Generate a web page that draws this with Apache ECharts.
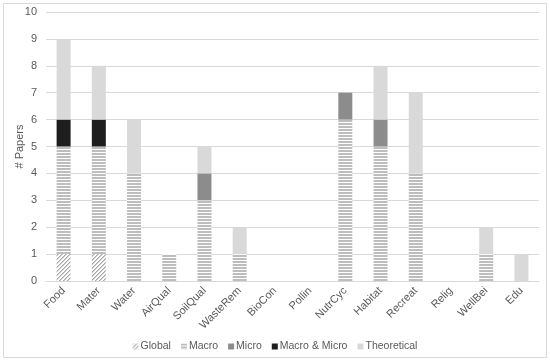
<!DOCTYPE html>
<html><head><meta charset="utf-8">
<script src="https://cdn.jsdelivr.net/npm/echarts@6/dist/echarts.min.js"></script>
<style>html,body{margin:0;padding:0;background:#fff}#c{width:550px;height:361px}</style>
</head><body><div id="c"></div>
<script>
const categories = ['Food','Mater','Water','AirQual','SoilQual','WasteRem','BioCon','Pollin','NutrCyc','Habitat','Recreat','Relig','WellBei','Edu'];
const globalVals      = [1,1,0,0,0,0,0,0,0,0,0,0,0,0];
const macroVals       = [4,4,4,1,3,1,0,0,6,5,4,0,1,0];
const microVals       = [0,0,0,0,1,0,0,0,1,1,0,0,0,0];
const macroMicroVals  = [1,1,0,0,0,0,0,0,0,0,0,0,0,0];
const theoreticalVals = [3,2,2,0,1,1,0,0,0,2,3,0,1,1];
const yTicks = [0,1,2,3,4,5,6,7,8,9,10];

function hPattern(){
  const c=document.createElement('canvas'); c.width=4; c.height=3;
  const g=c.getContext('2d'); g.fillStyle='#ffffff'; g.fillRect(0,0,4,3);
  g.fillStyle='#bdbdbd'; g.fillRect(0,0,4,2); return c;
}
function dPattern(){
  const c=document.createElement('canvas'); c.width=4; c.height=4;
  const g=c.getContext('2d'); g.fillStyle='#ffffff'; g.fillRect(0,0,4,4);
  g.fillStyle='#a6a6a6';
  for(let i=0;i<4;i++){ g.fillRect(i,3-i,1,1); }
  g.fillStyle='#cfcfcf';
  for(let i=0;i<4;i++){ g.fillRect((i+1)%4,3-i,1,1); }
  return c;
}
const chart = echarts.init(document.getElementById('c'),null,{renderer:'canvas'});
const nz = a => a.map(v => v===0? null : v);
function ser(name,data,color){
  return {name, type:'bar', stack:'s', data:nz(data), barWidth:14, itemStyle:{color}, emphasis:{disabled:true}};
}
chart.setOption({
  animation:false,
  grid:{left:46,right:11,top:12,bottom:80,containLabel:false,outerBoundsMode:'none'},
  graphic:[{type:'rect',shape:{x:3.5,y:3.5,width:543,height:354},style:{fill:'none',stroke:'#d9d9d9',lineWidth:1},z:-1}],
  legend:{bottom:4,left:'center',itemWidth:6,itemHeight:6,itemGap:10,icon:'rect',
    textStyle:{color:'#595959',fontSize:10.5,fontFamily:'Liberation Sans',padding:[0,0,0,-3]},
    data:['Global','Macro','Micro','Macro & Micro','Theoretical']},
  xAxis:{type:'category',data:categories,
    axisLine:{lineStyle:{color:'#d9d9d9'}},axisTick:{show:false},
    axisLabel:{rotate:45,interval:0,color:'#595959',fontSize:11,fontFamily:'Liberation Sans',margin:8}},
  yAxis:{type:'value',min:yTicks[0],max:yTicks[yTicks.length-1],interval:1,
    name:'# Papers',nameLocation:'middle',nameGap:21,nameRotate:90,nameMoveOverlap:false,
    nameTextStyle:{color:'#595959',fontSize:11,fontFamily:'Liberation Sans'},
    axisLabel:{color:'#595959',fontSize:11,fontFamily:'Liberation Sans',margin:9},
    splitLine:{lineStyle:{color:'#d9d9d9'}},axisLine:{show:false},axisTick:{show:false}},
  series:[
    ser('Global',globalVals,{image:dPattern(),repeat:'repeat'}),
    ser('Macro',macroVals,{image:hPattern(),repeat:'repeat'}),
    ser('Micro',microVals,'#8c8c8c'),
    ser('Macro & Micro',macroMicroVals,'#1e1e1e'),
    ser('Theoretical',theoreticalVals,'#d9d9d9')
  ]
});
</script></body></html>
